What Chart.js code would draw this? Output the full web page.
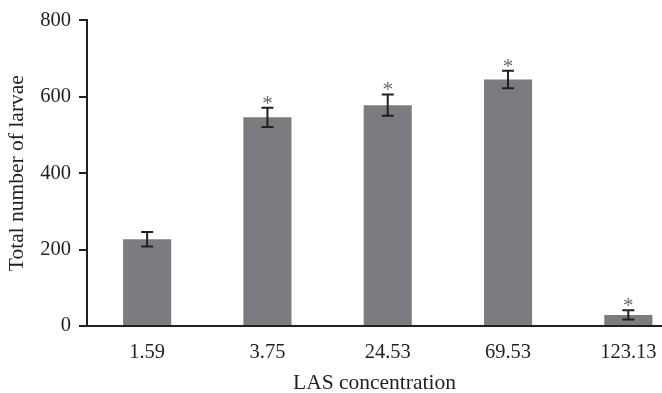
<!DOCTYPE html>
<html>
<head>
<meta charset="utf-8">
<script src="https://cdn.jsdelivr.net/npm/chart.js@4/dist/chart.umd.min.js"></script>
<style>
  html, body { margin: 0; padding: 0; background: #fff; }
  #wrap { width: 662px; height: 393px; }
</style>
</head>
<body>
<div id="wrap"><canvas id="c" width="662" height="393"></canvas></div>
<script>
const categories = ["1.59", "3.75", "24.53", "69.53", "123.13"];
const means = [227, 546, 578, 645, 29];
const errors = [19, 25, 28, 23, 12];
const significant = [false, true, true, true, true];
const yTicks = [0, 200, 400, 600, 800];

const ink = "#231f20";
const serif = "'Liberation Serif', 'DejaVu Serif', serif";

const errorBarPlugin = {
  id: "errorBars",
  afterDatasetsDraw(chart) {
    const ctx = chart.ctx;
    const meta = chart.getDatasetMeta(0);
    const y = chart.scales.y;
    ctx.save();
    meta.data.forEach((bar, i) => {
      const top = y.getPixelForValue(means[i] + errors[i]);
      const bot = y.getPixelForValue(means[i] - errors[i]);
      const cx = bar.x;
      const cap = 6;
      ctx.strokeStyle = ink;
      ctx.lineWidth = 2;
      ctx.beginPath();
      ctx.moveTo(cx, top); ctx.lineTo(cx, bot);
      ctx.moveTo(cx - cap, top); ctx.lineTo(cx + cap, top);
      ctx.moveTo(cx - cap, bot); ctx.lineTo(cx + cap, bot);
      ctx.stroke();
      if (significant[i]) {
        ctx.fillStyle = "#6a6a6a";
        ctx.font = "21px " + serif;
        ctx.textAlign = "center";
        ctx.textBaseline = "alphabetic";
        ctx.fillText("*", cx, top + 2);
      }
    });
    ctx.restore();
  }
};

new Chart(document.getElementById("c"), {
  type: "bar",
  data: {
    datasets: [{
      data: categories.map((c, i) => ({ x: i + 1, y: means[i] })),
      backgroundColor: "#7b7c80",
      borderWidth: 0,
      categoryPercentage: 1,
      barPercentage: 0.4
    }]
  },
  options: {
    responsive: false,
    animation: false,
    devicePixelRatio: 1,
    layout: { padding: { left: 0, right: 0, top: 6.7, bottom: 0 } },
    plugins: { legend: { display: false }, tooltip: { enabled: false } },
    scales: {
      x: {
        type: "linear",
        offset: false,
        min: 0.5,
        max: 5.28,
        afterBuildTicks: (scale) => { scale.ticks = categories.map((c, i) => ({ value: i + 1 })); },
        afterFit: (scale) => { scale.height = 67; scale.paddingLeft = 0; scale.paddingRight = 0; },
        ticks: {
          autoSkip: false,
          maxRotation: 0,
          padding: 14.5,
          color: ink,
          font: { family: serif, size: 20.5 },
          callback: (v) => categories[v - 1]
        },
        grid: { display: false, drawTicks: false, offset: false },
        border: { display: true, color: ink, width: 2 },
        title: {
          display: true,
          text: "LAS concentration",
          color: ink,
          font: { family: serif, size: 21.5, lineHeight: 1 },
          padding: { top: 0, bottom: -1 }
        }
      },
      y: {
        min: 0,
        max: 800,
        afterBuildTicks: (scale) => { scale.ticks = yTicks.map(v => ({ value: v })); },
        afterFit: (scale) => { scale.width = 87; },
        ticks: {
          padding: 8,
          color: ink,
          font: { family: serif, size: 20.5 }
        },
        grid: { drawOnChartArea: false, drawTicks: true, tickLength: 8, color: ink, lineWidth: 2 },
        border: { display: true, color: ink, width: 2 },
        title: {
          display: true,
          text: "Total number of larvae",
          color: ink,
          font: { family: serif, size: 21.5, lineHeight: 1 },
          padding: { top: 7, bottom: 0 }
        }
      }
    }
  },
  plugins: [errorBarPlugin]
});
</script>
</body>
</html>
